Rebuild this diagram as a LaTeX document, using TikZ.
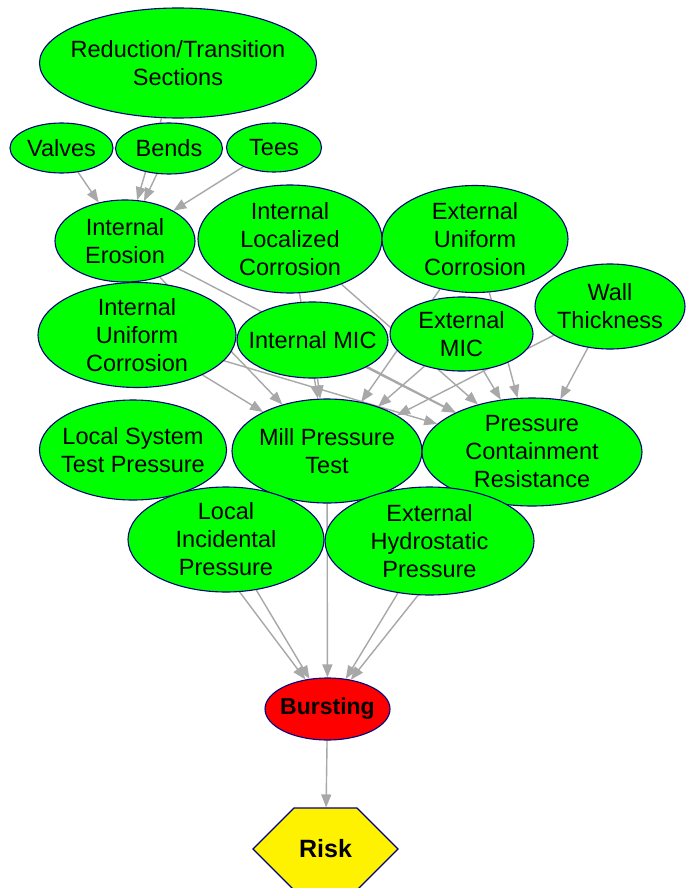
\documentclass[tikz,border=0pt]{standalone}
\usepackage{fontspec}
\setmainfont{Liberation Sans}
\usetikzlibrary{shapes.geometric,shapes.symbols,arrows.meta,backgrounds}
\definecolor{nodegreen}{RGB}{0,255,0}
\definecolor{rim}{RGB}{0,0,128}
\definecolor{linkgray}{RGB}{168,168,168}
\begin{document}
\begin{tikzpicture}[x=1pt,y=-1pt,
  bnode/.style={ellipse, draw=rim, line width=1.1pt, fill=nodegreen, inner sep=0pt},
  txt/.style={align=center, inner sep=0pt, font=\fontsize{23.5}{28}\selectfont},
  link/.style={draw=linkgray, line width=1.4pt, -{Triangle[length=13pt,width=10pt]}, fill=linkgray},
]
\useasboundingbox (0,0) rectangle (685,888);

% top row
\node[bnode, minimum width=277pt, minimum height=110pt, label={[txt]center:{Reduction/Transition\\Sections}}] (red) at (178,63) {};
\node[bnode, minimum width=103pt, minimum height=50pt, label={[txt]center:{Valves}}] (valves) at (61.5,148) {};
\node[bnode, minimum width=107pt, minimum height=51pt, label={[txt]center:{Bends}}] (bends) at (169,148.5) {};
\node[bnode, minimum width=95pt, minimum height=49pt, label={[txt]center:{Tees}}] (tees) at (274,147.5) {};

% failure mechanisms
\node[bnode, minimum width=140pt, minimum height=82pt, label={[txt]center:{Internal\\Erosion}}] (erosion) at (125,241) {};
\node[bnode, minimum width=184pt, minimum height=108pt, label={[txt]center:{Internal\\Localized\\Corrosion}}] (ilc) at (290,239) {};
\node[bnode, minimum width=186pt, minimum height=107pt, label={[txt]center:{External\\Uniform\\Corrosion}}] (euc) at (475,239) {};
\node[bnode, minimum width=198pt, minimum height=105pt, label={[txt]center:{Internal\\Uniform\\Corrosion}}] (iuc) at (137,335) {};
\node[bnode, minimum width=151pt, minimum height=76pt, label={[txt]center:{Internal MIC}}] (imic) at (312.5,340) {};
\node[bnode, minimum width=143pt, minimum height=74pt, label={[txt]center:{External\\MIC}}] (emic) at (461.5,334) {};
\node[bnode, minimum width=150pt, minimum height=85pt, label={[txt]center:{Wall\\Thickness}}] (wall) at (610,306.5) {};

% pressures
\node[bnode, minimum width=187pt, minimum height=100pt, label={[txt]center:{Local System\\Test Pressure}}] (lstp) at (133,450) {};
\node[bnode, minimum width=190pt, minimum height=104pt, label={[txt]center:{Mill Pressure\\Test}}] (mill) at (327,451) {};
\node[bnode, minimum width=220pt, minimum height=108pt, label={[txt]center:{Pressure\\Containment\\Resistance}}] (pcr) at (532,452) {};
\node[bnode, minimum width=196pt, minimum height=105pt, label={[txt]center:{Local\\Incidental\\Pressure}}] (lip) at (226,539.5) {};
\node[bnode, minimum width=209pt, minimum height=108pt, label={[txt]center:{External\\Hydrostatic\\Pressure}}] (ehp) at (429.5,541) {};

% outcome
\node[bnode, fill=red, minimum width=125pt, minimum height=62pt,
      label={[txt, font=\fontsize{23}{28}\selectfont\bfseries]center:{Bursting}}] (burst) at (327.5,709) {};
\node[signal, signal to=west and east, signal pointer angle=90, draw=rim, fill=yellow, line width=1.1pt,
      minimum width=145pt, minimum height=82pt, inner sep=0pt,
      font=\fontsize{25}{30}\selectfont\bfseries] (risk) at (325.5,849) {Risk};

\begin{pgfonlayer}{background}
  \fill[white] (0,0) rectangle (685,888);
  \draw[link] (red) -- (erosion);
  \draw[link] (valves) -- (erosion);
  \draw[link] (bends) -- (erosion);
  \draw[link] (tees) -- (erosion);
  \foreach \src in {erosion,ilc,euc,iuc,imic,emic,wall} {
    \draw[link] (\src) -- (mill);
    \draw[link] (\src) -- (pcr);
  }
  \foreach \src in {lstp,lip,mill,ehp,pcr} {
    \draw[link] (\src) -- (burst);
  }
  \draw[link] (burst) -- (risk);
\end{pgfonlayer}
\end{tikzpicture}
\end{document}
